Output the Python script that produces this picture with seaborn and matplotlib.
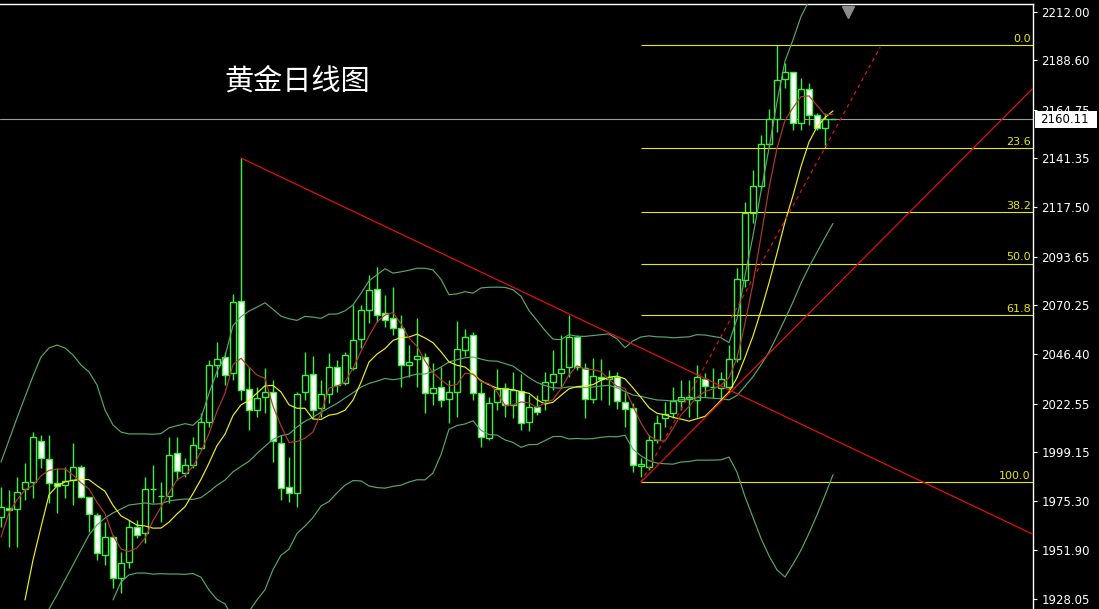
import numpy as np
import pandas as pd
import matplotlib
matplotlib.use('Agg')
import matplotlib.pyplot as plt
import matplotlib.transforms as mtransforms
from matplotlib.patches import Rectangle
import seaborn as sns

# =========================
# 1. Data (daily gold candles)
# =========================
opens = [1967.7, 1972.2, 1971.6, 1981.3, 1984.7, 2004.5, 1995.8, 1984.2, 1983.2, 1985.6,
         1991.9, 1977.4, 1968.7, 1949.3, 1958.1, 1938.2, 1946.0, 1962.9, 1960.0, 1981.3,
         1977.9, 1977.9, 1998.7, 1989.0, 1992.9, 2001.1, 2013.7, 2041.2, 2045.1, 2037.4,
         2072.2, 2029.6, 2019.5, 2025.8, 2028.2, 2003.5, 1982.2, 1979.3, 2028.2, 2036.9,
         2020.4, 2027.2, 2040.3, 2032.5, 2039.8, 2053.8, 2067.9, 2078.0, 2066.4, 2064.0,
         2059.1, 2041.2, 2044.1, 2045.1, 2027.7, 2030.6, 2024.8, 2028.2, 2048.5, 2055.8,
         2027.7, 2005.9, 2023.4, 2030.1, 2021.9, 2028.7, 2013.7, 2020.9, 2024.3, 2033.0,
         2037.4, 2040.3, 2054.8, 2039.8, 2024.8, 2035.4, 2034.5, 2035.4, 2023.4, 2020.4,
         1992.4, 1991.9, 2005.0, 2015.6, 2018.0, 2023.8, 2024.8, 2024.3, 2034.5, 2030.6,
         2030.1, 2030.6, 2044.1, 2082.4, 2114.8, 2127.8, 2148.1, 2160.2, 2179.6, 2183.0,
         2158.3, 2174.7, 2162.2, 2155.9, 2160.11]
highs = [1982.2, 1980.8, 1987.1, 1993.8, 2008.8, 2007.4, 2007.4, 1991.4, 1991.9, 2003.5,
         1992.9, 1977.4, 1969.7, 1965.3, 1959.0, 1950.8, 1966.3, 1966.3, 1987.1, 1992.9,
         1984.7, 2006.4, 2006.4, 1996.3, 2006.4, 2018.0, 2043.7, 2052.4, 2047.5, 2075.6,
         2141.4, 2040.3, 2030.6, 2039.8, 2034.0, 2007.4, 1996.7, 2028.2, 2047.5, 2045.6,
         2034.0, 2047.0, 2043.7, 2047.5, 2070.3, 2070.3, 2084.8, 2088.7, 2075.1, 2079.0,
         2065.4, 2050.9, 2064.0, 2047.0, 2042.2, 2040.3, 2034.0, 2062.5, 2058.7, 2057.2,
         2033.0, 2025.8, 2039.3, 2032.5, 2037.9, 2036.9, 2026.7, 2026.7, 2037.9, 2048.5,
         2055.8, 2065.4, 2055.8, 2042.2, 2044.6, 2044.1, 2038.8, 2037.9, 2028.2, 2022.9,
         1996.3, 2007.4, 2017.1, 2023.4, 2030.6, 2034.0, 2034.0, 2041.2, 2037.4, 2039.8,
         2037.9, 2050.9, 2088.2, 2120.1, 2135.6, 2152.5, 2165.1, 2196.0, 2187.3, 2183.0,
         2180.1, 2177.6, 2163.1, 2163.1, 2160.11]
lows = [1962.9, 1953.2, 1953.2, 1975.9, 1976.9, 1991.4, 1974.5, 1969.7, 1976.9, 1973.5,
        1976.9, 1960.5, 1946.9, 1944.5, 1933.4, 1931.0, 1943.1, 1957.6, 1955.1, 1974.5,
        1965.3, 1974.5, 1985.6, 1987.1, 1991.4, 2000.1, 2011.3, 2035.4, 2031.6, 2034.0,
        2024.3, 2009.8, 2016.1, 2018.0, 1994.3, 1975.9, 1975.0, 1972.6, 2024.3, 2015.6,
        2016.1, 2022.9, 2028.2, 2031.6, 2038.8, 2049.5, 2061.6, 2062.0, 2059.6, 2055.8,
        2030.6, 2035.4, 2030.6, 2018.0, 2021.9, 2020.9, 2013.2, 2016.1, 2045.6, 2024.3,
        2001.6, 2005.0, 2019.5, 2016.1, 2015.6, 2009.8, 2009.3, 2017.1, 2019.5, 2029.2,
        2030.1, 2035.4, 2038.8, 2015.6, 2022.9, 2024.3, 2021.9, 2019.9, 2011.3, 1989.5,
        1987.0, 1990.5, 2003.5, 2011.3, 2015.6, 2019.5, 2016.1, 2016.1, 2025.8, 2025.3,
        2024.3, 2027.7, 2042.7, 2079.0, 2109.9, 2125.9, 2146.7, 2154.0, 2175.2, 2154.9,
        2154.9, 2157.3, 2154.9, 2146.2, 2160.11]
closes = [1972.6, 1971.1, 1979.8, 1984.7, 2006.4, 1996.3, 1984.2, 1982.7, 1985.1, 1991.9,
          1977.4, 1969.2, 1950.3, 1958.1, 1938.2, 1945.5, 1962.9, 1959.0, 1981.3, 1981.3,
          1977.9, 1997.7, 1990.0, 1992.9, 2002.6, 2013.7, 2041.2, 2044.1, 2036.4, 2071.7,
          2029.2, 2019.5, 2025.3, 2028.2, 2004.5, 1981.8, 1979.3, 2027.2, 2036.4, 2019.5,
          2027.2, 2040.3, 2031.6, 2046.1, 2053.3, 2067.9, 2077.5, 2065.4, 2063.0, 2059.1,
          2041.2, 2042.7, 2045.6, 2027.7, 2030.1, 2024.3, 2028.2, 2049.0, 2054.8, 2027.7,
          2006.4, 2022.9, 2029.6, 2021.9, 2029.2, 2013.2, 2020.9, 2018.5, 2033.0, 2036.9,
          2039.3, 2054.8, 2040.3, 2024.8, 2035.9, 2034.5, 2035.4, 2023.8, 2019.9, 1992.9,
          1993.4, 2005.0, 2013.2, 2017.5, 2023.8, 2025.8, 2025.8, 2035.4, 2031.1, 2030.6,
          2034.5, 2044.1, 2082.8, 2114.8, 2127.8, 2148.1, 2160.2, 2179.1, 2183.0, 2158.3,
          2174.7, 2162.2, 2155.9, 2160.2, 2160.11]

# indicator values at the left edge, where the rolling window is not full yet
ma5_head = [1958.0, 1969.7, 1976.0, 1980.8]
ma10_head = [np.nan, np.nan, np.nan, 1927.6, 1946.9, 1962.9, 1978.4, 1982.7, 1984.7]
bb_up_head = [1994.3, 2004.9, 2015.6, 2025.8, 2035.9, 2045.1, 2049.5, 2050.9, 2049.5, 2046.1,
              2041.2, 2037.9, 2031.6, 2019.5, 2012.2, 2008.8, 2007.9, 2007.9, 2007.9]
bb_mid_head = [np.nan, np.nan, np.nan, np.nan, np.nan, np.nan, 1923.2, 1930.0, 1937.3, 1944.5,
               1951.8, 1959.0, 1963.9, 1967.2, 1969.7, 1971.6, 1973.5, 1974.0, 1974.5]
bb_low_head = [np.nan] * 14 + [1927.6, 1936.3, 1939.7, 1940.6, 1940.6]

price_ticks = [2212.00, 2188.60, 2164.75, 2141.35, 2117.50, 2093.65, 2070.25,
               2046.40, 2022.55, 1999.15, 1975.30, 1951.90, 1928.05]
current_price = 2160.11

fib_high = 2196.0
fib_low = 1984.6
fib_start = 80
fib_levels = [0.0, 23.6, 38.2, 50.0, 61.8, 100.0]

down_line = [(30, 2141.4), (71, 2066.0)]
up_line = [(80, 1984.6), (90, 2023.5)]
dash_line = [(80, 1984.6), (109.9, 2195.0)]

title = '黄金日线图'

# =========================
# 2. Indicators
# =========================
df = pd.DataFrame({'open': opens, 'high': highs, 'low': lows, 'close': closes})
df['i'] = np.arange(len(df))

df['ma5'] = df['close'].rolling(5).mean()
df['ma10'] = df['close'].rolling(10).mean()
mid = df['close'].rolling(20).mean()
sd = df['close'].rolling(20).std(ddof=0)
df['bb_mid'] = mid
df['bb_up'] = mid + 2 * sd
df['bb_low'] = mid - 2 * sd

df.loc[:len(ma5_head) - 1, 'ma5'] = ma5_head
df.loc[:len(ma10_head) - 1, 'ma10'] = ma10_head
df.loc[:len(bb_up_head) - 1, 'bb_up'] = bb_up_head
df.loc[:len(bb_mid_head) - 1, 'bb_mid'] = bb_mid_head
df.loc[:len(bb_low_head) - 1, 'bb_low'] = bb_low_head

# =========================
# 3. Figure
# =========================
sns.set_theme(style='dark', rc={'axes.facecolor': 'black', 'figure.facecolor': 'black'})
plt.rcParams['font.family'] = ['DejaVu Sans']

W, H = 1099, 609
fig = plt.figure(figsize=(W / 100, H / 100), dpi=100)
ax = fig.add_axes([0, 0, 1033 / W, 605 / H])
ax.set_facecolor('black')

x_max = 129.0
ax.set_xlim(-0.125, x_max)
ax.set_ylim(1923.2, 2215.9)

green = '#3cf03c'
up = df['close'] >= df['open']

# candles
ax.vlines(df['i'], df['low'], df['high'], color=green, lw=1.0, zorder=2)
ax.bar(df['i'], (df['close'] - df['open']).abs(),
       bottom=df[['open', 'close']].min(axis=1), width=0.72,
       color=np.where(up, 'black', 'white'), edgecolor=green, linewidth=1.0, zorder=3)

# bollinger + moving averages
for col, c in [('bb_up', '#55a870'), ('bb_mid', '#55a870'), ('bb_low', '#55a870'),
               ('ma10', '#f0f020'), ('ma5', '#b03a2e')]:
    d = df[['i', col]].dropna()
    sns.lineplot(x=d['i'], y=d[col], ax=ax, color=c, lw=0.85,
                 estimator=None, sort=False, legend=False, zorder=4)

# current price line
ax.axhline(current_price, color='#9a9a9a', lw=0.8, zorder=1)

# fibonacci levels
fib_color = '#e8e800'
for lv in fib_levels:
    p = fib_high - (fib_high - fib_low) * lv / 100
    ax.hlines(p, fib_start, x_max, color=fib_color, lw=0.8, zorder=3)
    ax.annotate(f'{lv:.1f}', xy=(0.998, p), xycoords=('axes fraction', 'data'),
                xytext=(0, 1), textcoords='offset points',
                ha='right', va='bottom', color=fib_color, fontsize=8)

# trend lines
def extend(pts, x_end):
    (x0, y0), (x1, y1) = pts
    k = (y1 - y0) / (x1 - x0)
    return [x0, x_end], [y0, y0 + k * (x_end - x0)]

xs, ys = extend(down_line, x_max)
ax.plot(xs, ys, color='#e01010', lw=0.9, zorder=6)
xs, ys = extend(up_line, x_max)
ax.plot(xs, ys, color='#e01010', lw=0.9, zorder=6)
ax.plot([p[0] for p in dash_line], [p[1] for p in dash_line],
        color='#e01010', lw=0.9, ls=(0, (3, 3)), zorder=6)

# =========================
# 4. Axes styling
# =========================
for s in ['left', 'bottom']:
    ax.spines[s].set_visible(False)
for s in ['right', 'top']:
    ax.spines[s].set_color('white')
    ax.spines[s].set_linewidth(1)

ax.set_xticks([])
ax.yaxis.tick_right()
ax.set_yticks(price_ticks)
ax.set_yticklabels([f'{t:.2f}' for t in price_ticks])
ax.tick_params(axis='y', direction='out', length=3, width=0.8, color='white',
               labelcolor='white', labelsize=8.5, pad=3)
ax.set_xlabel('')
ax.set_ylabel('')
ax.grid(False)

# current price box on the axis
tr = mtransforms.blended_transform_factory(fig.transFigure, ax.transData)
ax.add_patch(Rectangle((1035 / W, current_price - 4.1), 62 / W, 8.2, transform=tr,
                       facecolor='white', edgecolor='none', clip_on=False, zorder=10))
ax.text(1040 / W, current_price, f'{current_price:.2f}', transform=tr,
        color='black', fontsize=8.5, va='center', ha='left', clip_on=False, zorder=11)

# chart shift marker
ax.plot([848 / 1033], [0.987], marker='v', color='#8c8c8c', markersize=8,
        transform=ax.transAxes, clip_on=False, zorder=10)

# title
fig.text(297 / W, 1 - 82 / H, title, color='white', fontsize=21,
         family=['Noto Sans CJK SC', 'DejaVu Sans'], ha='center', va='center')

fig.savefig('out.png', dpi=100, facecolor='black')
